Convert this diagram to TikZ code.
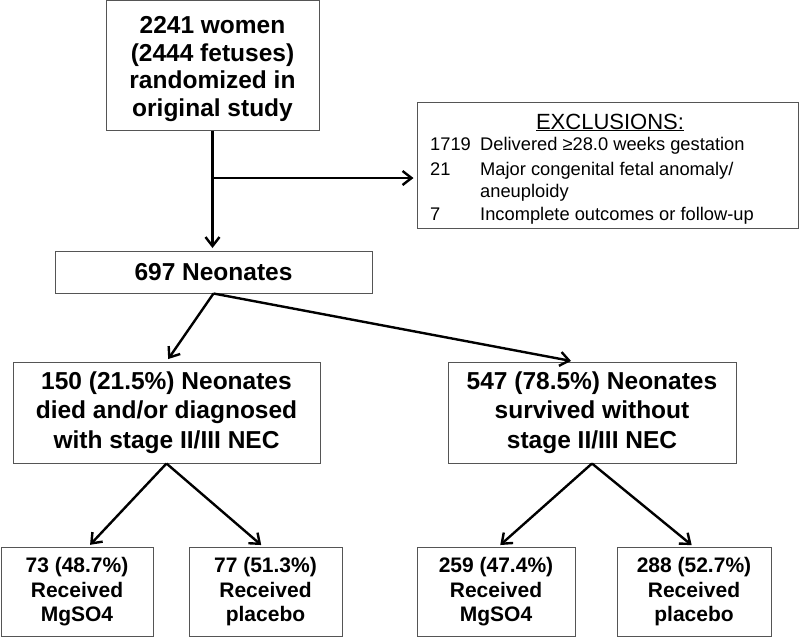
\documentclass[tikz,border=0pt]{standalone}
\usepackage{fontspec}
\setmainfont{Liberation Sans}
\usetikzlibrary{arrows.meta}
\definecolor{boxline}{HTML}{555555}
\newcommand\bigtxt{\fontsize{24.5}{27.7}\selectfont\bfseries}
\newcommand\midtxt{\fontsize{24.5}{29.5}\selectfont\bfseries}
\newcommand\lowtxt{\fontsize{21}{24.5}\selectfont\bfseries}
\newcommand\exctxt{\fontsize{18.3}{22}\selectfont}
\tikzset{
  box/.style={draw=boxline, line width=1pt, rectangle, inner sep=0pt, align=center, fill=white},
  conn/.style={line width=2.4pt, -{Straight Barb[length=9pt,width=14pt,line width=2.4pt]}, shorten >=3pt},
  exc/.style={anchor=base west, inner sep=0pt, font=\exctxt}
}
\begin{document}
\begin{tikzpicture}[x=1pt,y=-1pt]
\useasboundingbox[fill=white] (0,0) rectangle (800,638);
% boxes
\node[box, minimum width=213pt, minimum height=130pt, font=\bigtxt] (top) at (212.5,65.5)
  {\rule{0pt}{24pt}2241 women\\(2444 fetuses)\\randomized in\\original study};
\node[box, minimum width=381pt, minimum height=126pt] (excl) at (607.5,165.5) {};
\node[box, minimum width=317pt, minimum height=41.5pt, font=\midtxt] (n697) at (213.5,272.25) {697 Neonates};
\node[box, minimum width=307pt, minimum height=101pt, font=\midtxt] (n150) at (166.5,412.5)
  {150 (21.5\%) Neonates\\died and/or diagnosed\\with stage II/III NEC};
\node[box, minimum width=288pt, minimum height=101pt, font=\midtxt] (n547) at (592,412.5)
  {547 (78.5\%) Neonates\\survived without\\stage II/III NEC};
\node[box, minimum width=152pt, minimum height=89pt, font=\lowtxt] (b73) at (77,592)
  {73 (48.7\%)\\Received\\MgSO4};
\node[box, minimum width=153pt, minimum height=89pt, font=\lowtxt] (b77) at (265.5,592)
  {77 (51.3\%)\\Received\\placebo};
\node[box, minimum width=158pt, minimum height=89pt, font=\lowtxt] (b259) at (496,592)
  {259 (47.4\%)\\Received\\MgSO4};
\node[box, minimum width=154pt, minimum height=89pt, font=\lowtxt] (b288) at (694,592)
  {288 (52.7\%)\\Received\\placebo};
% exclusions text
\node[anchor=base, inner sep=0pt, font=\fontsize{22}{26}\selectfont] (etitle) at (610,129) {\underline{EXCLUSIONS:}};
\node[exc] (e1n) at (430,150) {1719};
\node[exc] (e1t) at (480,150) {Delivered ≥28.0 weeks gestation};
\node[exc] (e2n) at (430,175) {21};
\node[exc] (e2t) at (480,175) {Major congenital fetal anomaly/};
\node[exc] (e3t) at (480,197) {aneuploidy};
\node[exc] (e4n) at (430,220) {7};
\node[exc] (e4t) at (480,220) {Incomplete outcomes or follow-up};
% connectors
\coordinate (j) at (212.5,178);
\draw[conn] (top.south) -- (top.south |- n697.north);
\draw[conn] (j) -- (j -| excl.west);
\draw[conn] (n697.south) -- (n150.north);
\draw[conn] (n697.south) -- ([xshift=-18pt]n547.north);
\draw[conn] (n150.south) -- ([xshift=11pt]b73.north);
\draw[conn] (n150.south) -- ([xshift=-2pt]b77.north);
\draw[conn] (n547.south) -- ([xshift=2pt]b259.north);
\draw[conn] (n547.south) -- (b288.north);
\end{tikzpicture}
\end{document}
